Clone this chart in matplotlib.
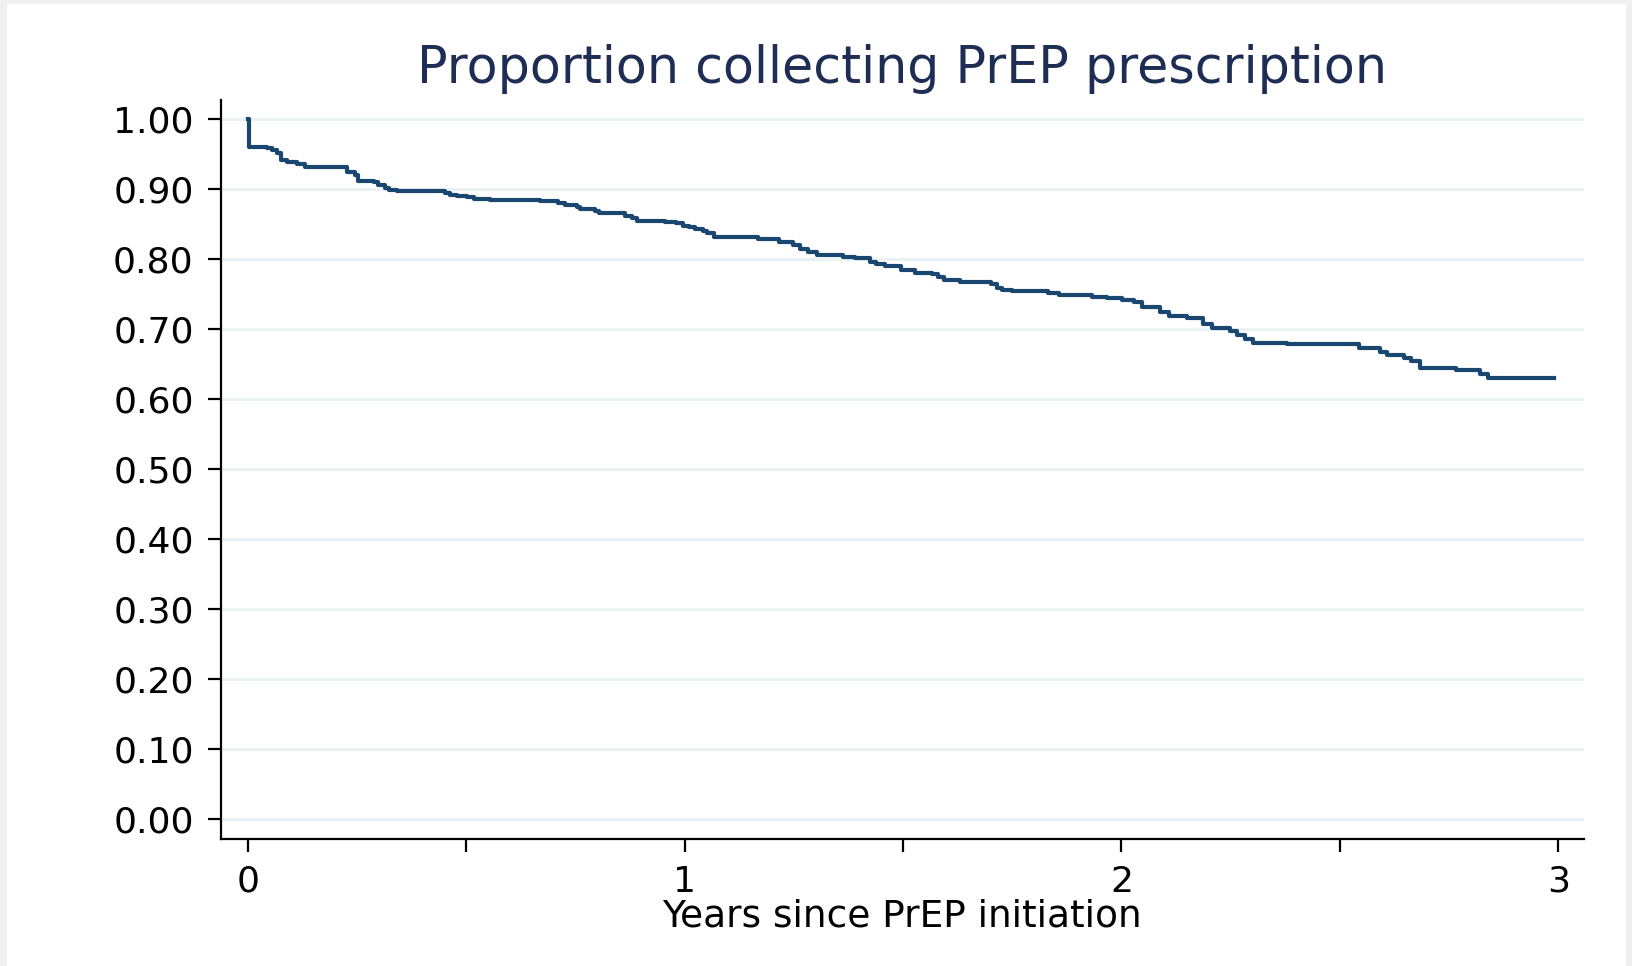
import numpy as np
import matplotlib.pyplot as plt
from matplotlib.patches import Rectangle

# Kaplan-Meier style step curve
years = [0, 0.002, 0.043, 0.055, 0.066, 0.076, 0.089, 0.112, 0.131, 0.188,
         0.228, 0.246, 0.253, 0.288, 0.299, 0.314, 0.323, 0.341, 0.452, 0.463,
         0.478, 0.501, 0.517, 0.555, 0.669, 0.711, 0.726, 0.753, 0.761, 0.795,
         0.805, 0.864, 0.879, 0.891, 0.955, 0.981, 0.997, 1.009, 1.024, 1.042,
         1.051, 1.068, 1.167, 1.217, 1.248, 1.264, 1.283, 1.303, 1.362, 1.390,
         1.424, 1.438, 1.459, 1.495, 1.528, 1.566, 1.581, 1.593, 1.631, 1.701,
         1.715, 1.726, 1.749, 1.831, 1.858, 1.933, 1.967, 2.001, 2.028, 2.047,
         2.089, 2.108, 2.150, 2.186, 2.207, 2.249, 2.264, 2.283, 2.302, 2.379,
         2.545, 2.592, 2.608, 2.646, 2.664, 2.684, 2.766, 2.820, 2.840, 2.991]
proportion = [1.000, 0.960, 0.958, 0.955, 0.952, 0.941, 0.939, 0.935, 0.932, 0.931,
              0.924, 0.920, 0.911, 0.910, 0.905, 0.902, 0.898, 0.897, 0.894, 0.892,
              0.890, 0.888, 0.886, 0.884, 0.883, 0.880, 0.877, 0.874, 0.872, 0.869,
              0.865, 0.862, 0.859, 0.854, 0.853, 0.851, 0.847, 0.845, 0.843, 0.840,
              0.837, 0.831, 0.828, 0.824, 0.820, 0.814, 0.810, 0.805, 0.803, 0.801,
              0.796, 0.793, 0.790, 0.784, 0.780, 0.778, 0.774, 0.770, 0.767, 0.765,
              0.759, 0.756, 0.754, 0.752, 0.749, 0.746, 0.744, 0.742, 0.739, 0.731,
              0.725, 0.719, 0.716, 0.707, 0.702, 0.697, 0.691, 0.686, 0.680, 0.678,
              0.673, 0.667, 0.663, 0.658, 0.654, 0.645, 0.641, 0.636, 0.630, 0.630]

y_ticks = np.arange(0, 1.01, 0.1)
x_major = [0, 1, 2, 3]
x_minor = [0.5, 1.5, 2.5]

title = "Proportion collecting PrEP prescription"
x_label = "Years since PrEP initiation"

plt.rcParams['font.family'] = ['DejaVu Sans']

fig = plt.figure(figsize=(16.32, 9.66), dpi=100)
fig.patch.set_facecolor('#f0f0f0')
# white inner panel with thin grey border round it
fig.add_artist(Rectangle((7/1632, 0), (1626-7)/1632, (962)/966,
                         transform=fig.transFigure, facecolor='white',
                         edgecolor='none', zorder=0))

ax = fig.add_axes([0.1352, 0.1315, 0.9706-0.1352, 0.8965-0.1315])
ax.set_facecolor('white')

for y in y_ticks:
    ax.axhline(y, color='#eaf2f3', linewidth=2.2, zorder=1)

ax.plot(years, proportion, drawstyle='steps-post', color='#1a476f',
        linewidth=3, zorder=3)

ax.set_xlim(-0.062, 3.059)
ax.set_ylim(-0.028, 1.027)

ax.set_yticks(y_ticks)
ax.set_yticklabels([f"{v:.2f}" for v in y_ticks])
ax.set_xticks(x_major)
ax.set_xticklabels([str(v) for v in x_major])
ax.set_xticks(x_minor, minor=True)

ax.tick_params(axis='y', length=9.4, width=1.6, pad=10, labelsize=26)
ax.tick_params(axis='x', which='major', length=9.4, width=1.6, pad=9, labelsize=26)
ax.tick_params(axis='x', which='minor', length=9.4, width=1.6)

for side in ['top', 'right']:
    ax.spines[side].set_visible(False)
for side in ['left', 'bottom']:
    ax.spines[side].set_linewidth(1.6)

ax.set_xlabel(x_label, fontsize=27, labelpad=0)
ax.set_title(title, fontsize=36.5, color='#1e2d53', pad=12)

fig.savefig('out.png', dpi=100, facecolor=fig.get_facecolor())
